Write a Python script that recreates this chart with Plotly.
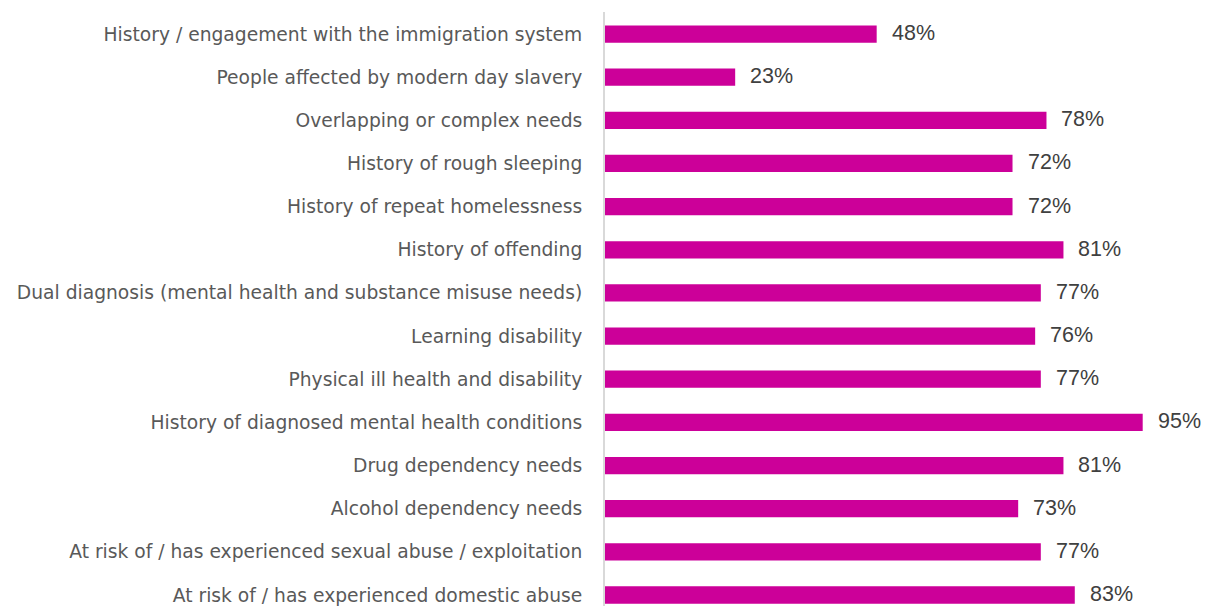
import plotly.graph_objects as go

# Support needs, listed top to bottom
categories = [
    "History / engagement with the immigration system",
    "People affected by modern day slavery",
    "Overlapping or complex needs",
    "History of rough sleeping",
    "History of repeat homelessness",
    "History of offending",
    "Dual diagnosis (mental health and substance misuse needs)",
    "Learning disability",
    "Physical ill health and disability",
    "History of diagnosed mental health conditions",
    "Drug dependency needs",
    "Alcohol dependency needs",
    "At risk of / has experienced sexual abuse / exploitation",
    "At risk of / has experienced domestic abuse",
]
values = [48, 23, 78, 72, 72, 81, 77, 76, 77, 95, 81, 73, 77, 83]
value_labels = [f"{v}%" for v in values]

# Plotly draws horizontal categories bottom-up, so reverse for display order
cats_plot = categories[::-1]
vals_plot = values[::-1]
labels_plot = value_labels[::-1]

BAR_COLOR = "#CC0099"

fig = go.Figure(
    go.Bar(
        x=vals_plot,
        y=cats_plot,
        orientation="h",
        marker=dict(color=BAR_COLOR, line=dict(width=0)),
        hoverinfo="skip",
    )
)

for cat, v, lab in zip(cats_plot, vals_plot, labels_plot):
    fig.add_annotation(
        x=v, y=cat, text=lab, showarrow=False,
        xanchor="left", yanchor="middle", xshift=14, yshift=1,
        borderpad=0,
        font=dict(family="Liberation Sans, Arial, sans-serif", size=21.5, color="#404040"),
    )

fig.update_layout(
    width=1210, height=606,
    margin=dict(l=605, r=39, t=12, b=0),
    plot_bgcolor="white", paper_bgcolor="white",
    bargap=0.6,
    showlegend=False,
    xaxis=dict(range=[0, 100], visible=False, fixedrange=True),
    yaxis=dict(
        type="category",
        range=[-0.255, 13.51],
        showline=True, linecolor="#d9d9d9", linewidth=2,
        showgrid=False, zeroline=False,
        ticks="", ticklabelstandoff=17,
        tickfont=dict(family="DejaVu Sans, sans-serif", size=18.7, color="#595959"),
    ),
)

fig.write_html("out.html")
